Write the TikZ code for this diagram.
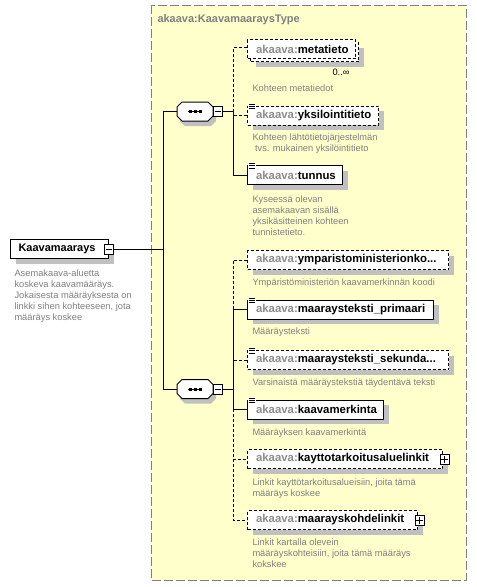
\documentclass[tikz,border=0pt]{standalone}
\usepackage{fontspec}
\setmainfont{Liberation Sans}
\usetikzlibrary{shadows}
\definecolor{bgyellow}{RGB}{255,255,204}
\definecolor{boxgray}{RGB}{128,128,128}
\definecolor{shadowgray}{RGB}{192,192,192}
\definecolor{nsgray}{RGB}{140,140,140}
\definecolor{descgray}{RGB}{128,128,128}
\newcommand{\elemfont}{\fontsize{11.4}{13}\selectfont\bfseries}
\newcommand{\titlefont}{\fontsize{11}{13}\selectfont\bfseries}
\newcommand{\descfont}{\fontsize{9.3}{11}\selectfont}
\newcommand{\nsp}{\textcolor{nsgray}{akaava:}}
\newcommand{\elemtxt}[2]{\makebox[#1][l]{\hspace{8.5pt}\nsp#2}}
\newcommand{\simpleicon}[1]{%
  \fill[white] ([shift={(1pt,2pt)}]#1.north west) rectangle ++(8pt,-6pt);
  \draw[line width=0.8pt] ([shift={(1.5pt,1.5pt)}]#1.north west) -- ++(6pt,0pt);
  \draw[line width=0.8pt] ([shift={(1.5pt,-0.7pt)}]#1.north west) -- ++(6pt,0pt);
  \draw[line width=0.8pt] ([shift={(1.5pt,-2.9pt)}]#1.north west) -- ++(6pt,0pt);}
\newcommand{\octpath}[2]{({#1-13},{#2-9.5}) -- ({#1+13},{#2-9.5}) -- ({#1+18},{#2-4.5}) -- ({#1+18},{#2+4.5}) -- ({#1+13},{#2+9.5}) -- ({#1-13},{#2+9.5}) -- ({#1-18},{#2+4.5}) -- ({#1-18},{#2-4.5}) -- cycle}
\newcommand{\seqshape}[2]{%
  \fill[shadowgray] \octpath{#1+3}{#2+5};
  \draw[fill=white] \octpath{#1}{#2};}
\begin{document}
\begin{tikzpicture}[x=1pt,y=-1pt,line width=1pt,
  elembase/.style={draw, fill=white, minimum height=19pt, inner sep=0pt, anchor=west, font=\elemfont},
  elem/.style={elembase, general shadow={fill=shadowgray, shadow xshift=5pt, shadow yshift=-5pt}},
  optbox/.style={dash pattern=on 3pt off 2pt},
  optline/.style={dash pattern=on 3pt off 2pt},
  desc/.style={anchor=north west, inner sep=0pt, align=left, font=\descfont, text=descgray},
  togglebox/.style={draw, fill=white, minimum width=9pt, minimum height=10pt, inner sep=0pt},
  seqnode/.style={rectangle, draw=none, minimum width=36pt, minimum height=19pt, inner sep=0pt}]
\useasboundingbox (0,0) rectangle (477,587);
\fill[white] (0,0) rectangle (477,587);
% complex type container
\draw[boxgray, fill=bgyellow, dash pattern=on 9pt off 3pt] (151,5) rectangle (466,580);
\node[anchor=west, inner sep=0pt, font=\titlefont, text=boxgray] (title) at (157,20) {akaava:KaavamaaraysType};

% root element
\node[elem, font=\titlefont] (K) at (10,249) {\makebox[98pt][l]{\hspace{8pt}Kaavamaarays}};
\node[togglebox] (m0) at (K.east) {};
\draw ([xshift=2pt]m0.west) -- ([xshift=-2pt]m0.east);
\node[desc] (Kd) at (14,269) {Asemakaava-aluetta\\koskeva kaavamääräys.\\Jokaisesta määräyksesta on\\linkki sihen kohteeseen, jota\\määräys koskee};

% sequences
\seqshape{195}{111.5}
\node[seqnode] (s1) at (195,111.5) {};
\node[togglebox] (m1) at (218,111.5) {};
\draw ([xshift=2pt]m1.west) -- ([xshift=-2pt]m1.east);
\seqshape{195}{389}
\node[seqnode] (s2) at (195,389) {};
\node[togglebox] (m2) at (218,389) {};
\draw ([xshift=2pt]m2.west) -- ([xshift=-2pt]m2.east);
\foreach \s in {s1,s2}{
  \draw ([xshift=-7pt]\s.center) -- ([xshift=7pt]\s.center);
  \foreach \dx in {-5,0,5}{
    \fill ([shift={(\dx pt,0pt)}]\s.center) ++(-1.5pt,-1.5pt) rectangle ++(3pt,3pt);}
}

% first sequence elements
\node[elem, optbox] (e1b) at (250,52) {\makebox[108pt]{}};
\node[elembase, optbox] (e1) at (247,49) {\elemtxt{108pt}{metatieto}};
\node[anchor=center, inner sep=0pt, font=\descfont] (e1m) at (341,72) {0..∞};
\node[desc] (e1d) at (252,84) {Kohteen metatiedot};

\node[elem, optbox] (e2) at (247,115.5) {\elemtxt{131pt}{yksilointitieto}};
\simpleicon{e2}
\node[desc] (e2d) at (252,133) {Kohteen lähtötietojärjestelmän\\\ tvs. mukainen yksilöintitieto};

\node[elem] (e3) at (247,175) {\elemtxt{95pt}{tunnus}};
\simpleicon{e3}
\node[desc] (e3d) at (252,195) {Kyseessä olevan\\asemakaavan sisällä\\yksikäsitteinen kohteen\\tunnistetieto.};

% second sequence elements
\node[elem, optbox] (e4) at (247,260) {\elemtxt{201pt}{ymparistoministerionko...}};
\node[desc] (e4d) at (252,278) {Ympäristöministeriön kaavamerkinnän koodi};

\node[elem] (e5) at (247,309.5) {\elemtxt{186pt}{maaraysteksti\_primaari}};
\simpleicon{e5}
\node[desc] (e5d) at (252,327) {Määräysteksti};

\node[elem, optbox] (e6) at (247,360) {\elemtxt{201pt}{maaraysteksti\_sekunda...}};
\simpleicon{e6}
\node[desc] (e6d) at (252,378) {Varsinaistä määräystekstiä täydentävä teksti};

\node[elem] (e7) at (247,409.5) {\elemtxt{136pt}{kaavamerkinta}};
\simpleicon{e7}
\node[desc] (e7d) at (252,428) {Määräyksen kaavamerkintä};

\node[elem, optbox] (e8) at (247,459) {\elemtxt{195pt}{kayttotarkoitusaluelinkit}};
\node[togglebox] (p8) at ([xshift=1.5pt]e8.east) {};
\draw ([xshift=1.8pt]p8.west) -- ([xshift=-1.8pt]p8.east);
\draw ([yshift=2pt]p8.south) -- ([yshift=-2pt]p8.north);
\node[desc] (e8d) at (252,478) {Linkit kayttötarkoitusalueisiin, joita tämä\\määräys koskee};

\node[elem, optbox] (e9) at (247,520) {\elemtxt{170pt}{maarayskohdelinkit}};
\node[togglebox] (p9) at ([xshift=1.5pt]e9.east) {};
\draw ([xshift=1.8pt]p9.west) -- ([xshift=-1.8pt]p9.east);
\draw ([yshift=2pt]p9.south) -- ([yshift=-2pt]p9.north);
\node[desc] (e9d) at (252,538) {Linkit kartalla olevein\\määräyskohteisiin, joita tämä määräys\\kokskee};

% connectors
\coordinate (j0) at (163,249);
\coordinate (b1) at (233,111.5);
\coordinate (b2) at (233,389);
\draw (m0.east) -- (j0);
\draw (j0) |- (s1.west);
\draw (j0) |- (s2.west);
\draw (m1.east) -- (b1);
\draw (m2.east) -- (b2);
\draw[optline] (b1) |- ([yshift=2pt]e1.west);
\draw[optline] (b1) |- (e2.west);
\draw (b1) |- (e3.west);
\draw[optline] (b2) |- (e4.west);
\draw[optline] (b2) |- (e6.west);
\draw[optline] (b2) |- (e8.west);
\draw[optline] (b2) |- (e9.west);
\draw (b2) |- (e5.west);
\draw (b2) |- (e7.west);
\end{tikzpicture}
\end{document}
